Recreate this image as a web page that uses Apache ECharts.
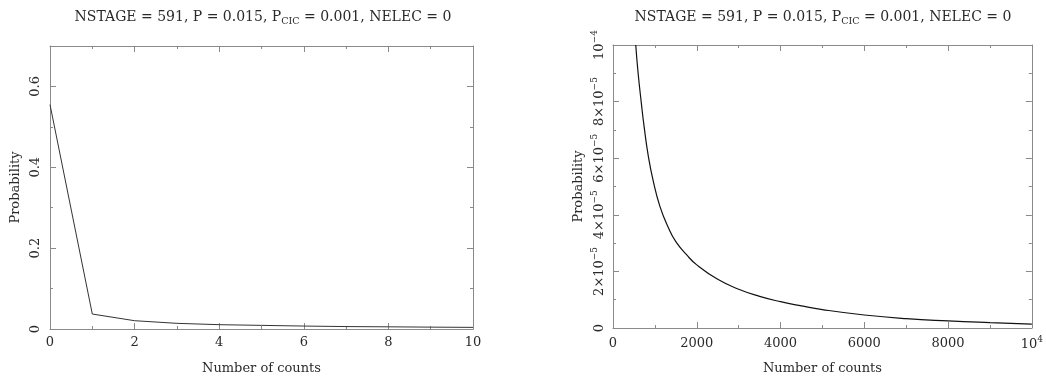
<!DOCTYPE html>
<html>
<head>
<meta charset="utf-8">
<script src="https://cdn.jsdelivr.net/npm/echarts@6/dist/echarts.min.js"></script>
<style>
  html, body { margin: 0; padding: 0; background: #fff; }
  #chart { width: 1046px; height: 380px; }
</style>
</head>
<body>
<div id="chart"></div>
<script>
// left panel: counts 0..10
const leftCounts = [0, 1, 2, 3, 4, 5, 6, 7, 8, 9, 10]
const leftProb = [0.555, 0.037, 0.0205, 0.014, 0.0107, 0.009, 0.0073, 0.006, 0.0054, 0.0046, 0.004]

// right panel: counts 0..10^4 (curve clipped at the top)
const rightCounts = [543, 600, 680, 740, 840, 960, 1120, 1320, 1500, 1750, 2000, 2500, 3000, 3500, 4000, 4500, 5000, 6000, 7000, 8000, 9000, 10000]
const rightProb = [1.0e-4, 9.0e-5, 7.9e-5, 7.15e-5, 6.1e-5, 5.2e-5, 4.3e-5, 3.55e-5, 3.05e-5, 2.6e-5, 2.23e-5, 1.72e-5, 1.37e-5, 1.12e-5, 0.93e-5, 0.78e-5, 0.65e-5, 0.46e-5, 0.33e-5, 0.25e-5, 0.19e-5, 0.14e-5]

const titleText = 'NSTAGE = 591, P = 0.015, P{sub|CIC} = 0.001, NELEC = 0'
const xName = 'Number of counts'
const yName = 'Probability'

const FONT = 'DejaVu Serif'
const TEXT = '#2a2a2a'
const FRAME = '#8a8a8a'

const sup = { fontFamily: FONT, fontSize: 9, color: TEXT, verticalAlign: 'bottom', padding: [0, 0, 7, 0] }
const base = { fontFamily: FONT, fontSize: 13, color: TEXT, verticalAlign: 'bottom', lineHeight: 15 }

// shared look for the box axes (ticks inside on all four sides)
const boxAxis = (extra) => Object.assign({
  axisLine: { show: true, onZero: false, lineStyle: { color: FRAME, width: 1 } },
  axisTick: { show: true, inside: true, length: 6, lineStyle: { color: FRAME } },
  minorTick: { show: true, splitNumber: 2, length: 3, lineStyle: { color: FRAME } },
  splitLine: { show: false },
  axisLabel: { show: false },
}, extra)

const labelStyle = (extra) => Object.assign({
  show: true,
  fontFamily: FONT,
  fontSize: 13,
  color: TEXT,
  rich: { base, sup },
}, extra)

const nameStyle = { fontFamily: FONT, fontSize: 13, color: TEXT }

const titleStyle = {
  fontFamily: FONT, fontSize: 14, fontWeight: 'normal', color: TEXT,
  rich: { sub: { fontFamily: FONT, fontSize: 9.5, color: TEXT, padding: [9, 0, 0, 0] } },
}

const fmtRightY = v => {
  if (v === 0) return '0'
  const m = Math.round(v * 1e5)
  if (m === 10) return '{base|10}{sup|\u22124}'
  return '{base|' + m + '\u00d710}{sup|\u22125}'
}

const option = {
  animation: false,
  backgroundColor: '#fff',
  title: [
    { text: titleText, left: 258, top: 3, textAlign: 'center', textStyle: titleStyle },
    { text: titleText, left: 818, top: 3, textAlign: 'center', textStyle: titleStyle },
  ],
  grid: [
    { left: 50, top: 46, width: 423, height: 286 },
    { left: 613, top: 45, width: 419, height: 283 },
  ],
  xAxis: [
    boxAxis({
      gridIndex: 0, type: 'value', position: 'bottom', min: 0, max: 10, interval: 2,
      axisLabel: labelStyle({ margin: 7 }),
      name: xName, nameLocation: 'middle', nameGap: 33, nameTextStyle: nameStyle,
    }),
    boxAxis({ gridIndex: 0, type: 'value', position: 'top', min: 0, max: 10, interval: 2 }),
    boxAxis({
      gridIndex: 1, type: 'value', position: 'bottom', min: 0, max: 10000, interval: 2000,
      axisLabel: labelStyle({
        margin: 7,
        formatter: v => v === 10000 ? '{base|10}{sup|4}' : '{base|' + v + '}',
      }),
      name: xName, nameLocation: 'middle', nameGap: 34, nameTextStyle: nameStyle,
    }),
    boxAxis({ gridIndex: 1, type: 'value', position: 'top', min: 0, max: 10000, interval: 2000 }),
  ],
  yAxis: [
    boxAxis({
      gridIndex: 0, type: 'value', position: 'left', min: 0, max: 0.7, interval: 0.2,
      axisLabel: labelStyle({
        rotate: 90, margin: 8,
        formatter: v => v > 0.65 ? '' : String(Math.round(v * 10) / 10),
      }),
      name: yName, nameLocation: 'middle', nameGap: 28, nameRotate: 90, nameTextStyle: nameStyle,
    }),
    boxAxis({ gridIndex: 0, type: 'value', position: 'right', min: 0, max: 0.7, interval: 0.2 }),
    boxAxis({
      gridIndex: 1, type: 'value', position: 'left', min: 0, max: 1e-4, interval: 2e-5,
      axisLabel: labelStyle({ rotate: 90, margin: 7, formatter: fmtRightY }),
      name: yName, nameLocation: 'middle', nameGap: 28, nameRotate: 90, nameTextStyle: nameStyle,
    }),
    boxAxis({ gridIndex: 1, type: 'value', position: 'right', min: 0, max: 1e-4, interval: 2e-5 }),
  ],
  series: [
    {
      type: 'line',
      xAxisIndex: 0,
      yAxisIndex: 0,
      data: leftCounts.map((c, i) => [c, leftProb[i]]),
      showSymbol: false,
      symbol: 'none',
      lineStyle: { color: '#333', width: 1 },
    },
    {
      type: 'line',
      xAxisIndex: 2,
      yAxisIndex: 2,
      data: rightCounts.map((c, i) => [c, rightProb[i]]),
      showSymbol: false,
      symbol: 'none',
      smooth: 0.5,
      lineStyle: { color: '#111', width: 1.2 },
    },
  ],
}

const chart = echarts.init(document.getElementById('chart'), null, { renderer: 'canvas' })
chart.setOption(option)
</script>
</body>
</html>
